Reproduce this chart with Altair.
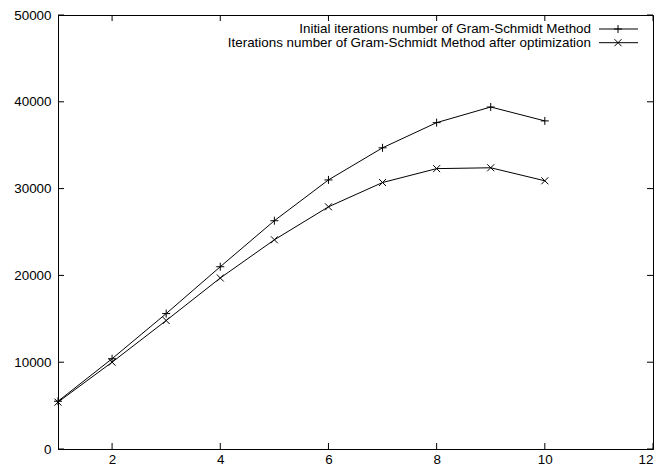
import altair as alt
import pandas as pd

x_vals = [1, 2, 3, 4, 5, 6, 7, 8, 9, 10]
initial = [5500, 10400, 15600, 21000, 26300, 31000, 34700, 37600, 39400, 37800]
optimized = [5400, 10000, 14800, 19700, 24100, 27900, 30700, 32300, 32400, 30900]
x_ticks = [2, 4, 6, 8, 10, 12]
y_ticks = [0, 10000, 20000, 30000, 40000, 50000]
legend_labels = ["Initial iterations number of Gram-Schmidt Method",
                 "Iterations number of Gram-Schmidt Method after optimization"]

W, H = 595, 434
FONT = "Liberation Sans"
FS = 13.4
PLUS = "M-1,0L1,0M0,-1L0,1"
CROSS = "M-1,-1L1,1M-1,1L1,-1"

df = pd.DataFrame({"x": x_vals, "initial": initial, "optimized": optimized})
xt = pd.DataFrame({"t": x_ticks})
yt = pd.DataFrame({"t": y_ticks})

xs = alt.Scale(domain=[1, 12], nice=False, zero=False)
ys = alt.Scale(domain=[0, 50000], nice=False)

xaxis = alt.Axis(values=x_ticks, ticks=False, grid=False, title=None, domain=True,
                 domainColor="black", labelFont=FONT, labelFontSize=FS, labelColor="black",
                 labelPadding=3, labelFlush=True)
yaxis = alt.Axis(values=y_ticks, ticks=False, grid=False, title=None, domain=True, format="d",
                 domainColor="black", labelFont=FONT, labelFontSize=FS, labelColor="black",
                 labelPadding=7, labelFlush=False)

base = alt.Chart(df)
l1 = base.mark_line(color="black", strokeWidth=1).encode(
    x=alt.X("x:Q", scale=xs, axis=xaxis), y=alt.Y("initial:Q", scale=ys, axis=yaxis))
p1 = base.mark_point(shape=PLUS, filled=False, color="black", strokeWidth=1, size=64, opacity=1).encode(
    x="x:Q", y="initial:Q")
l2 = base.mark_line(color="black", strokeWidth=1).encode(x="x:Q", y="optimized:Q")
p2 = base.mark_point(shape=CROSS, filled=False, color="black", strokeWidth=1, size=49, opacity=1).encode(
    x="x:Q", y="optimized:Q")

tb = alt.Chart(xt).mark_rule(color="black", strokeWidth=1).encode(
    x="t:Q", y=alt.value(H), y2=alt.value(H - 6))
tt = alt.Chart(xt).mark_rule(color="black", strokeWidth=1).encode(
    x="t:Q", y=alt.value(0), y2=alt.value(6))
tl = alt.Chart(yt).mark_rule(color="black", strokeWidth=1).encode(
    y="t:Q", x=alt.value(0), x2=alt.value(6))
tr = alt.Chart(yt).mark_rule(color="black", strokeWidth=1).encode(
    y="t:Q", x=alt.value(W), x2=alt.value(W - 6))

one = alt.Data(values=[{"a": 1}])
leg = []
shapes = [(PLUS, 64), (CROSS, 49)]
for i, lab in enumerate(legend_labels):
    yy = 14 + i * 13.7
    leg.append(alt.Chart(one).mark_text(align="right", baseline="middle", font=FONT,
                                         fontSize=FS, color="black").encode(
        x=alt.value(533), y=alt.value(yy), text=alt.value(lab)))
    leg.append(alt.Chart(one).mark_rule(color="black", strokeWidth=1).encode(
        x=alt.value(541), x2=alt.value(580), y=alt.value(yy)))
    leg.append(alt.Chart(one).mark_point(shape=shapes[i][0], filled=False, color="black",
                                          strokeWidth=1, size=shapes[i][1], opacity=1).encode(
        x=alt.value(560), y=alt.value(yy)))

chart = alt.layer(l1, p1, l2, p2, tb, tt, tl, tr, *leg).properties(
    width=W, height=H,
    autosize=alt.AutoSizeParams(type="none"),
    padding={"left": 50, "top": 7, "right": 1, "bottom": 18},
    background="white",
).configure_view(stroke="black", strokeWidth=1)

chart.save("out.html", embed_options={"renderer": "svg", "actions": False})
